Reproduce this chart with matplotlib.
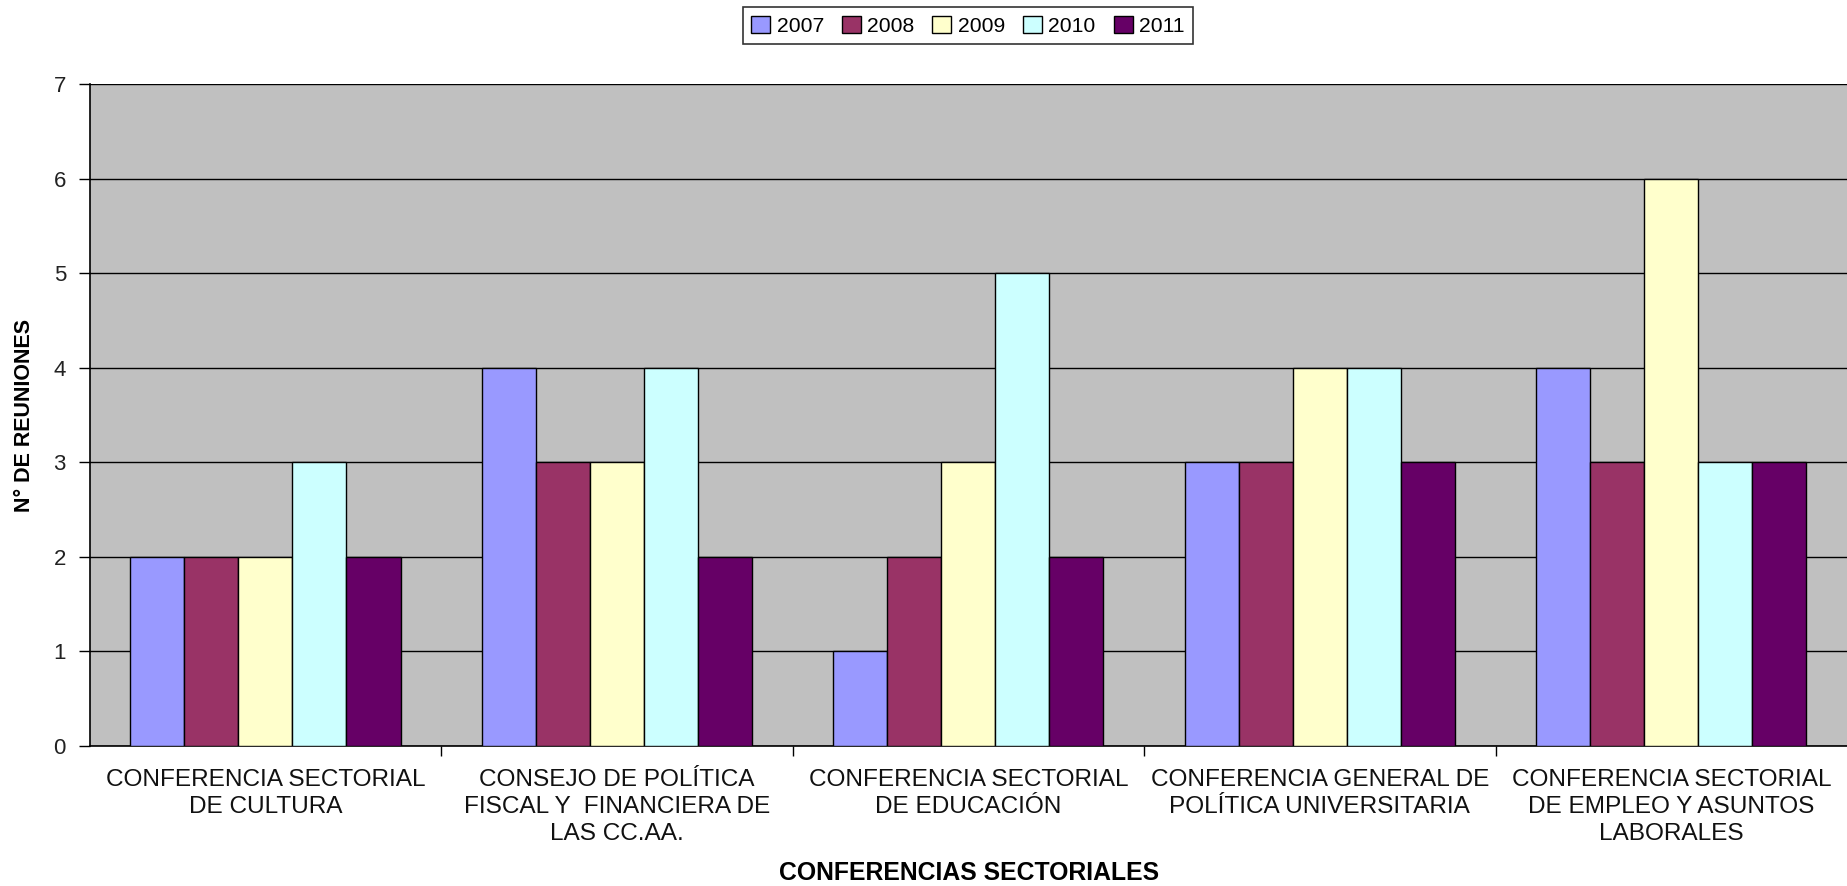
import matplotlib
matplotlib.use('Agg')
import matplotlib.pyplot as plt
import numpy as np

plt.rcParams['font.family'] = ['Liberation Sans', 'DejaVu Sans']

# categories (x axis)
conferencias = ['CONFERENCIA SECTORIAL\nDE CULTURA',
                'CONSEJO DE POLÍTICA\nFISCAL Y  FINANCIERA DE\nLAS CC.AA.',
                'CONFERENCIA SECTORIAL\nDE EDUCACIÓN',
                'CONFERENCIA GENERAL DE\nPOLÍTICA UNIVERSITARIA',
                'CONFERENCIA SECTORIAL\nDE EMPLEO Y ASUNTOS\nLABORALES']

years = ['2007', '2008', '2009', '2010', '2011']

# number of meetings per year
r2007 = [2, 4, 1, 3, 4]
r2008 = [2, 3, 2, 3, 3]
r2009 = [2, 3, 3, 4, 6]
r2010 = [3, 4, 5, 4, 3]
r2011 = [2, 2, 2, 3, 3]

series = [r2007, r2008, r2009, r2010, r2011]
colors = ['#9999FF', '#993366', '#FFFFCC', '#CCFFFF', '#660066']

fig = plt.figure(figsize=(18.47, 8.86), dpi=100)
ax = fig.add_axes([0.0485, 0.158, 0.9515, 0.747])
ax.set_facecolor('#C0C0C0')

x = np.arange(len(conferencias))
w = 1 / 6.5
for i, vals in enumerate(series):
    ax.bar(x + (i - 2) * w, vals, w, color=colors[i], edgecolor='black',
           linewidth=1, label=years[i], zorder=3)

ax.set_xlim(-0.5, len(conferencias) - 0.5)
ax.set_ylim(0, 7)
ax.set_yticks(range(0, 8))
ax.yaxis.grid(True, color='black', linewidth=1)
ax.set_axisbelow(True)

ax.set_xticks(x)
ax.set_xticklabels(conferencias, fontsize=17.6, linespacing=1.31, color='#111111')
ax.tick_params(axis='x', which='major', length=0, pad=16.5)
ax.set_xticks(x[:-1] + 0.5, minor=True)
ax.tick_params(axis='x', which='minor', length=7, width=1)
ax.tick_params(axis='y', length=8, width=1, labelsize=16, pad=9, labelcolor='#222222')

for s in ['top', 'right']:
    ax.spines[s].set_visible(False)
for s in ['left', 'bottom']:
    ax.spines[s].set_color('black')
    ax.spines[s].set_linewidth(1.2)

ax.set_ylabel('N° DE REUNIONES', fontsize=15.5, fontweight='bold')
ax.yaxis.set_label_coords(-0.031, 0.5)
fig.text(0.5245, 0.015, 'CONFERENCIAS SECTORIALES', ha='center', va='center',
         fontsize=17.8, fontweight='bold')

leg = fig.legend(loc='center', bbox_to_anchor=(0.524, 0.971), ncol=5,
                 fontsize=15.2, frameon=True, fancybox=False, edgecolor='black',
                 handlelength=0.9, handleheight=0.9, handletextpad=0.3,
                 columnspacing=0.85, borderpad=0.4)
leg.get_frame().set_linewidth(1.2)

fig.savefig('out.png', dpi=100)
